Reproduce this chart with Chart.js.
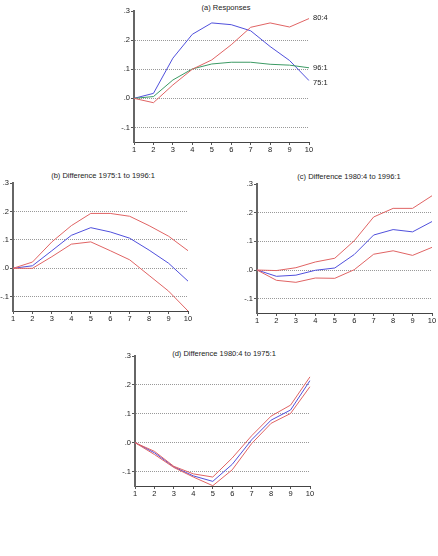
<!DOCTYPE html>
<html lang="en">
<head>
<meta charset="UTF-8">
<title>Impulse responses</title>
<script src="https://cdn.jsdelivr.net/npm/chart.js@4.4.0/dist/chart.umd.min.js"></script>
<style>
    body {
        margin: 0;
        background: #fff;
        width: 438px;
        height: 556px;
        position: relative;
        overflow: hidden;
        font-family: 'Liberation Sans', Arial, sans-serif;
    }
    canvas { position: absolute; }
    .title {
        position: absolute;
        font-size: 7.5px;
        color: #222;
        white-space: nowrap;
        transform: translate(-50%, -50%);
    }
</style>
</head>
<body>
<div class="title" style="left:226px; top:7px">(a) Responses</div>
<div class="title" style="left:103px; top:175px">(b) Difference 1975:1 to 1996:1</div>
<div class="title" style="left:349px; top:176px">(c) Difference 1980:4 to 1996:1</div>
<div class="title" style="left:224px; top:353px">(d) Difference 1980:4 to 1975:1</div>

<canvas id="chartA" width="240" height="160" style="left:100px; top:0px"></canvas>
<canvas id="chartB" width="210" height="165" style="left:0px; top:165px"></canvas>
<canvas id="chartC" width="218" height="165" style="left:220px; top:165px"></canvas>
<canvas id="chartD" width="220" height="165" style="left:110px; top:340px"></canvas>

<script>
    // horizon
    const steps = ['1', '2', '3', '4', '5', '6', '7', '8', '9', '10'];
    const yTicks = [-0.1, 0, 0.1, 0.2, 0.3];

    // (a) responses
    const resp751 = [0, 0.017, 0.138, 0.22, 0.259, 0.253, 0.232, 0.178, 0.13, 0.061];
    const resp804 = [0, -0.015, 0.046, 0.1, 0.132, 0.184, 0.244, 0.259, 0.245, 0.274];
    const resp961 = [0, 0.006, 0.063, 0.101, 0.118, 0.124, 0.124, 0.117, 0.114, 0.105];

    // (b) 1975:1 - 1996:1
    const diffB = [0, 0.009, 0.062, 0.116, 0.143, 0.128, 0.106, 0.064, 0.018, -0.045];
    const diffBHigh = [0, 0.022, 0.093, 0.15, 0.193, 0.193, 0.183, 0.15, 0.113, 0.062];
    const diffBLow = [0, 0, 0.041, 0.085, 0.093, 0.062, 0.03, -0.025, -0.08, -0.15];

    // (c) 1980:4 - 1996:1
    const diffC = [0, -0.022, -0.018, -0.001, 0.007, 0.054, 0.122, 0.141, 0.133, 0.169];
    const diffCHigh = [0, -0.002, 0.008, 0.028, 0.041, 0.102, 0.185, 0.215, 0.215, 0.259];
    const diffCLow = [0, -0.036, -0.043, -0.028, -0.029, 0.001, 0.055, 0.067, 0.051, 0.079];

    // (d) 1980:4 - 1975:1
    const diffD = [0, -0.035, -0.084, -0.115, -0.134, -0.075, 0.01, 0.078, 0.113, 0.215];
    const diffDHigh = [0, -0.03, -0.082, -0.108, -0.119, -0.053, 0.024, 0.092, 0.13, 0.228];
    const diffDLow = [0, -0.041, -0.086, -0.119, -0.149, -0.094, -0.003, 0.067, 0.101, 0.194];

    const blue = '#5050dc';
    const red = '#e06464';
    const green = '#3c9a64';
    const font = { family: 'Liberation Sans', size: 7.5 };

    function fmt(v) {
        if (Math.abs(v) < 1e-9) return '.0';
        return (v < 0 ? '-' : '') + Math.abs(v).toFixed(1).replace(/^0/, '');
    }

    const endLabels = {
        id: 'endLabels',
        afterDatasetsDraw(chart, args, opts) {
            const items = opts.items || [];
            const ctx = chart.ctx;
            ctx.save();
            ctx.font = '7.5px "Liberation Sans"';
            ctx.fillStyle = '#222';
            ctx.textBaseline = 'middle';
            items.forEach(it => {
                const meta = chart.getDatasetMeta(it.dataset);
                const pt = meta.data[meta.data.length - 1];
                ctx.fillText(it.text, pt.x + 4, pt.y + (it.dy || 0));
            });
            ctx.restore();
        }
    };

    function line(data, color) {
        return { data: data, borderColor: color, borderWidth: 1, pointRadius: 0, tension: 0, fill: false };
    }

    function makePanel(id, yWidth, pad, datasets, labels) {
        return new Chart(document.getElementById(id), {
            type: 'line',
            data: { labels: steps, datasets: datasets },
            options: {
                responsive: false,
                animation: false,
                layout: { padding: { top: pad.top, right: pad.right, bottom: pad.bottom, left: 0 } },
                plugins: {
                    legend: { display: false },
                    tooltip: { enabled: false },
                    endLabels: { items: labels || [] }
                },
                scales: {
                    x: {
                        offset: false,
                        grid: { drawOnChartArea: false, tickLength: 3, tickColor: '#555' },
                        border: { color: '#444', width: 1 },
                        ticks: { font: font, color: '#222', padding: 0, maxRotation: 0, autoSkip: false },
                        afterFit(s) { s.height = 14; }
                    },
                    y: {
                        min: -0.15,
                        max: 0.3,
                        afterBuildTicks(s) { s.ticks = yTicks.map(v => ({ value: v })); },
                        ticks: { font: font, color: '#222', padding: 1, callback: v => fmt(v) },
                        grid: {
                            color: c => (c.tick && c.tick.value > 0.29) ? 'rgba(0,0,0,0)' : '#999',
                            lineWidth: 1,
                            tickLength: 3,
                            tickColor: '#555'
                        },
                        border: { color: '#666', width: 2, dash: [1, 1] },
                        afterFit(s) { s.width = yWidth; }
                    }
                }
            },
            plugins: [endLabels]
        });
    }

    makePanel('chartA', 34, { top: 11, right: 31, bottom: 4 }, [
        line(resp804, red),
        line(resp961, green),
        line(resp751, blue)
    ], [
        { dataset: 0, text: '80:4', dy: -1 },
        { dataset: 1, text: '96:1', dy: 0 },
        { dataset: 2, text: '75:1', dy: 2 }
    ]);

    makePanel('chartB', 13, { top: 18, right: 22, bottom: 5 }, [
        line(diffBHigh, red),
        line(diffBLow, red),
        line(diffB, blue)
    ]);

    makePanel('chartC', 37, { top: 19, right: 6, bottom: 3 }, [
        line(diffCHigh, red),
        line(diffCLow, red),
        line(diffC, blue)
    ]);

    makePanel('chartD', 25, { top: 16, right: 20, bottom: 5 }, [
        line(diffDHigh, red),
        line(diffDLow, red),
        line(diffD, blue)
    ]);
</script>
</body>
</html>
